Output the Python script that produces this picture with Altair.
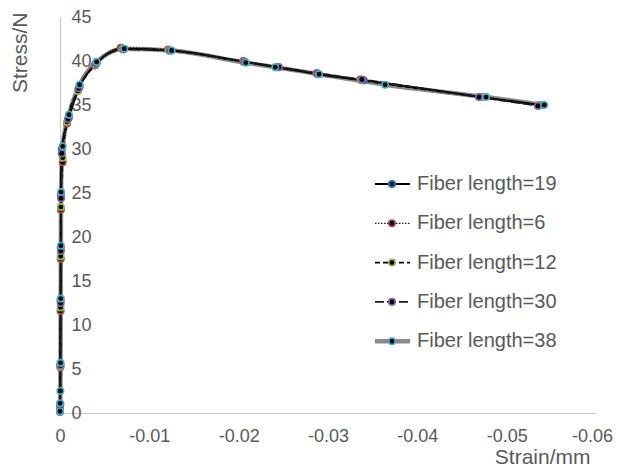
import altair as alt
import pandas as pd

# ---------------- data ----------------
series_names = ["Fiber length=19", "Fiber length=6", "Fiber length=12",
                "Fiber length=30", "Fiber length=38"]

strain_19 = [0, -0.00002, -0.00004, -0.00006, -0.00008, -0.0001, -0.0002,
             -0.0010, -0.0022, -0.0041, -0.0071, -0.0124, -0.0207, -0.0243,
             -0.0289, -0.0340, -0.0472, -0.0538]
stress_19 = [0.3, 1.0, 5.5, 12.8, 18.8, 24.8, 30.0,
             33.6, 37.1, 39.8, 41.4, 41.2, 39.9, 39.3,
             38.5, 37.8, 35.9, 35.0]

strain_6 = [0, -0.00002, -0.00004, -0.00006, -0.00008, -0.0001, -0.0003,
            -0.0008, -0.0020, -0.0039, -0.0068, -0.0121, -0.0205,
            -0.0287, -0.0336, -0.0470, -0.0537]
stress_6 = [0.4, 1.0, 5.2, 11.6, 17.5, 23.1, 28.5,
            32.9, 36.6, 39.5, 41.5, 41.3, 40.0,
            38.6, 37.9, 35.9, 35.0]

strain_12 = [0, -0.00002, -0.00004, -0.00006, -0.00008, -0.0001, -0.0003,
             -0.0008, -0.0020, -0.0040, -0.0070, -0.0122, -0.0206,
             -0.0288, -0.0337, -0.0471, -0.0537]
stress_12 = [0.2, 0.9, 5.3, 12.0, 17.8, 23.4, 29.0,
             33.1, 36.6, 39.6, 41.4, 41.2, 39.9,
             38.6, 37.8, 35.9, 35.0]

strain_30 = [0, -0.00002, -0.00005, -0.00008, -0.0001, -0.00012, -0.0002,
             -0.0009, -0.0021, -0.0040, -0.0071, -0.0123, -0.0206, -0.0245,
             -0.0288, -0.0338, -0.0469, -0.0535]
stress_30 = [0.1, 0.8, 5.4, 12.5, 18.4, 24.4, 29.5,
             33.4, 36.9, 39.7, 41.3, 41.2, 39.9, 39.3,
             38.6, 37.9, 35.9, 34.9]

strain_38 = [0, -0.00002, -0.00004, -0.00006, -0.00008, -0.0001, -0.00012, -0.0003,
             -0.0010, -0.0022, -0.0041, -0.0072, -0.0125, -0.0208, -0.0241,
             -0.0290, -0.0364, -0.0477, -0.0542]
stress_38 = [0.2, 1.1, 2.5, 5.7, 13.0, 19.0, 25.1, 30.3,
             33.9, 37.3, 39.9, 41.4, 41.2, 39.8, 39.3,
             38.5, 37.3, 35.9, 35.0]

x_ticks = [0, -0.01, -0.02, -0.03, -0.04, -0.05, -0.06]
y_ticks = [0, 5, 10, 15, 20, 25, 30, 35, 40, 45]

all_strain = [strain_19, strain_6, strain_12, strain_30, strain_38]
all_stress = [stress_19, stress_6, stress_12, stress_30, stress_38]

rows = []
for name, sx, sy in zip(series_names, all_strain, all_stress):
    for i, (a, b) in enumerate(zip(sx, sy)):
        rows.append({"series": name, "strain": a, "stress": b, "order": i})
df = pd.DataFrame(rows)

# ---------------- styles ----------------
line_color = {"Fiber length=19": "#000000", "Fiber length=6": "#222222",
              "Fiber length=12": "#000000", "Fiber length=30": "#1a1a1a",
              "Fiber length=38": "#8a8a8a"}
line_width = {"Fiber length=19": 2, "Fiber length=6": 1.3,
              "Fiber length=12": 1.6, "Fiber length=30": 1.8,
              "Fiber length=38": 4.5}
line_dash = {"Fiber length=19": None, "Fiber length=6": [1.5, 1.5],
             "Fiber length=12": [5, 3], "Fiber length=30": [9, 3],
             "Fiber length=38": None}
mk_fill = {"Fiber length=19": "#14213a", "Fiber length=6": "#000000",
           "Fiber length=12": "#000000", "Fiber length=30": "#000000",
           "Fiber length=38": "#000000"}
mk_stroke = {"Fiber length=19": "#3f6fb5", "Fiber length=6": "#b0504a",
             "Fiber length=12": "#98b954", "Fiber length=30": "#7f64a6",
             "Fiber length=38": "#4bacc6"}

GRAY = "#595959"
FONT = "Liberation Sans"

x_enc = alt.X("strain:Q",
              scale=alt.Scale(domain=[-0.06, 0], reverse=True, nice=False, zero=False),
              axis=alt.Axis(values=x_ticks,
                            labelExpr="datum.value == 0 ? '0' : '-' + format(abs(datum.value), '.2f')",
                            labelOffset=alt.condition("datum.value < -0.055", alt.value(-4), alt.value(0)),
                            title="Strain/mm", titleX=530, titleY=50,
                            titleAlign="right", titleBaseline="alphabetic",
                            titleFontSize=21, titleFontWeight="normal", titleColor=GRAY,
                            titleFont=FONT,
                            labelFont=FONT, labelFontSize=18, labelColor=GRAY,
                            labelPadding=14, ticks=False, tickSize=0, grid=False,
                            domainColor="#c8c8c8", domainWidth=1.2, labelFlush=False))
y_enc = alt.Y("stress:Q",
              scale=alt.Scale(domain=[0, 45], nice=False),
              axis=alt.Axis(values=y_ticks, title="Stress/N",
                            titleAngle=270, titleX=-40, titleY=-5,
                            titleAlign="right", titleBaseline="middle",
                            titleFontSize=21, titleFontWeight="normal", titleColor=GRAY,
                            titleFont=FONT,
                            labelFont=FONT, labelFontSize=18, labelColor=GRAY,
                            labelAlign="left", labelPadding=-11, labelBaseline="middle",
                            ticks=False, tickSize=0, grid=False,
                            domainColor="#c8c8c8", domainWidth=1.2, labelFlush=False))

base = alt.Chart(df)

def line_layer(name):
    kw = dict(interpolate="monotone", color=line_color[name],
              strokeWidth=line_width[name])
    if line_dash[name] is not None:
        kw["strokeDash"] = line_dash[name]
    return base.transform_filter(alt.datum.series == name).mark_line(**kw).encode(
        x=x_enc, y=y_enc, order="order:Q")

def point_layer(name):
    return base.transform_filter(alt.datum.series == name).mark_point(
        filled=False, shape="circle", size=42, fill=mk_fill[name], fillOpacity=1,
        stroke=mk_stroke[name], strokeWidth=1.6, opacity=1).encode(x=x_enc, y=y_enc)

layers = []
layers.append(line_layer("Fiber length=38"))
for n in series_names[:4]:
    layers.append(line_layer(n))
for n in series_names:
    layers.append(point_layer(n))

# ---------------- legend (drawn inside the plot area) ----------------
leg_top = 167
leg_step = 39.3
for i, n in enumerate(series_names):
    ld = pd.DataFrame({"series": [n]})
    ly = leg_top + i * leg_step
    kw = dict(color=line_color[n], strokeWidth=line_width[n])
    if line_dash[n] is not None:
        kw["strokeDash"] = line_dash[n]
    layers.append(alt.Chart(ld).mark_rule(**kw).encode(
        x=alt.value(315), x2=alt.value(350), y=alt.value(ly)))
    layers.append(alt.Chart(ld).mark_point(
        filled=False, shape="circle", size=42, fill=mk_fill[n], fillOpacity=1,
        stroke=mk_stroke[n], strokeWidth=1.6, opacity=1).encode(
        x=alt.value(332), y=alt.value(ly)))
    layers.append(alt.Chart(ld).mark_text(
        align="left", baseline="middle", font=FONT, fontSize=20, color=GRAY).encode(
        x=alt.value(357), y=alt.value(ly), text="series:N"))

chart = alt.layer(*layers).properties(
    width=536, height=396,
    autosize=alt.AutoSizeParams(type="none"),
    padding={"left": 52, "top": 9, "right": 17, "bottom": 55},
    background="white",
).configure_view(stroke=None)

chart.save("out.html", embed_options={"renderer": "svg", "actions": False})
